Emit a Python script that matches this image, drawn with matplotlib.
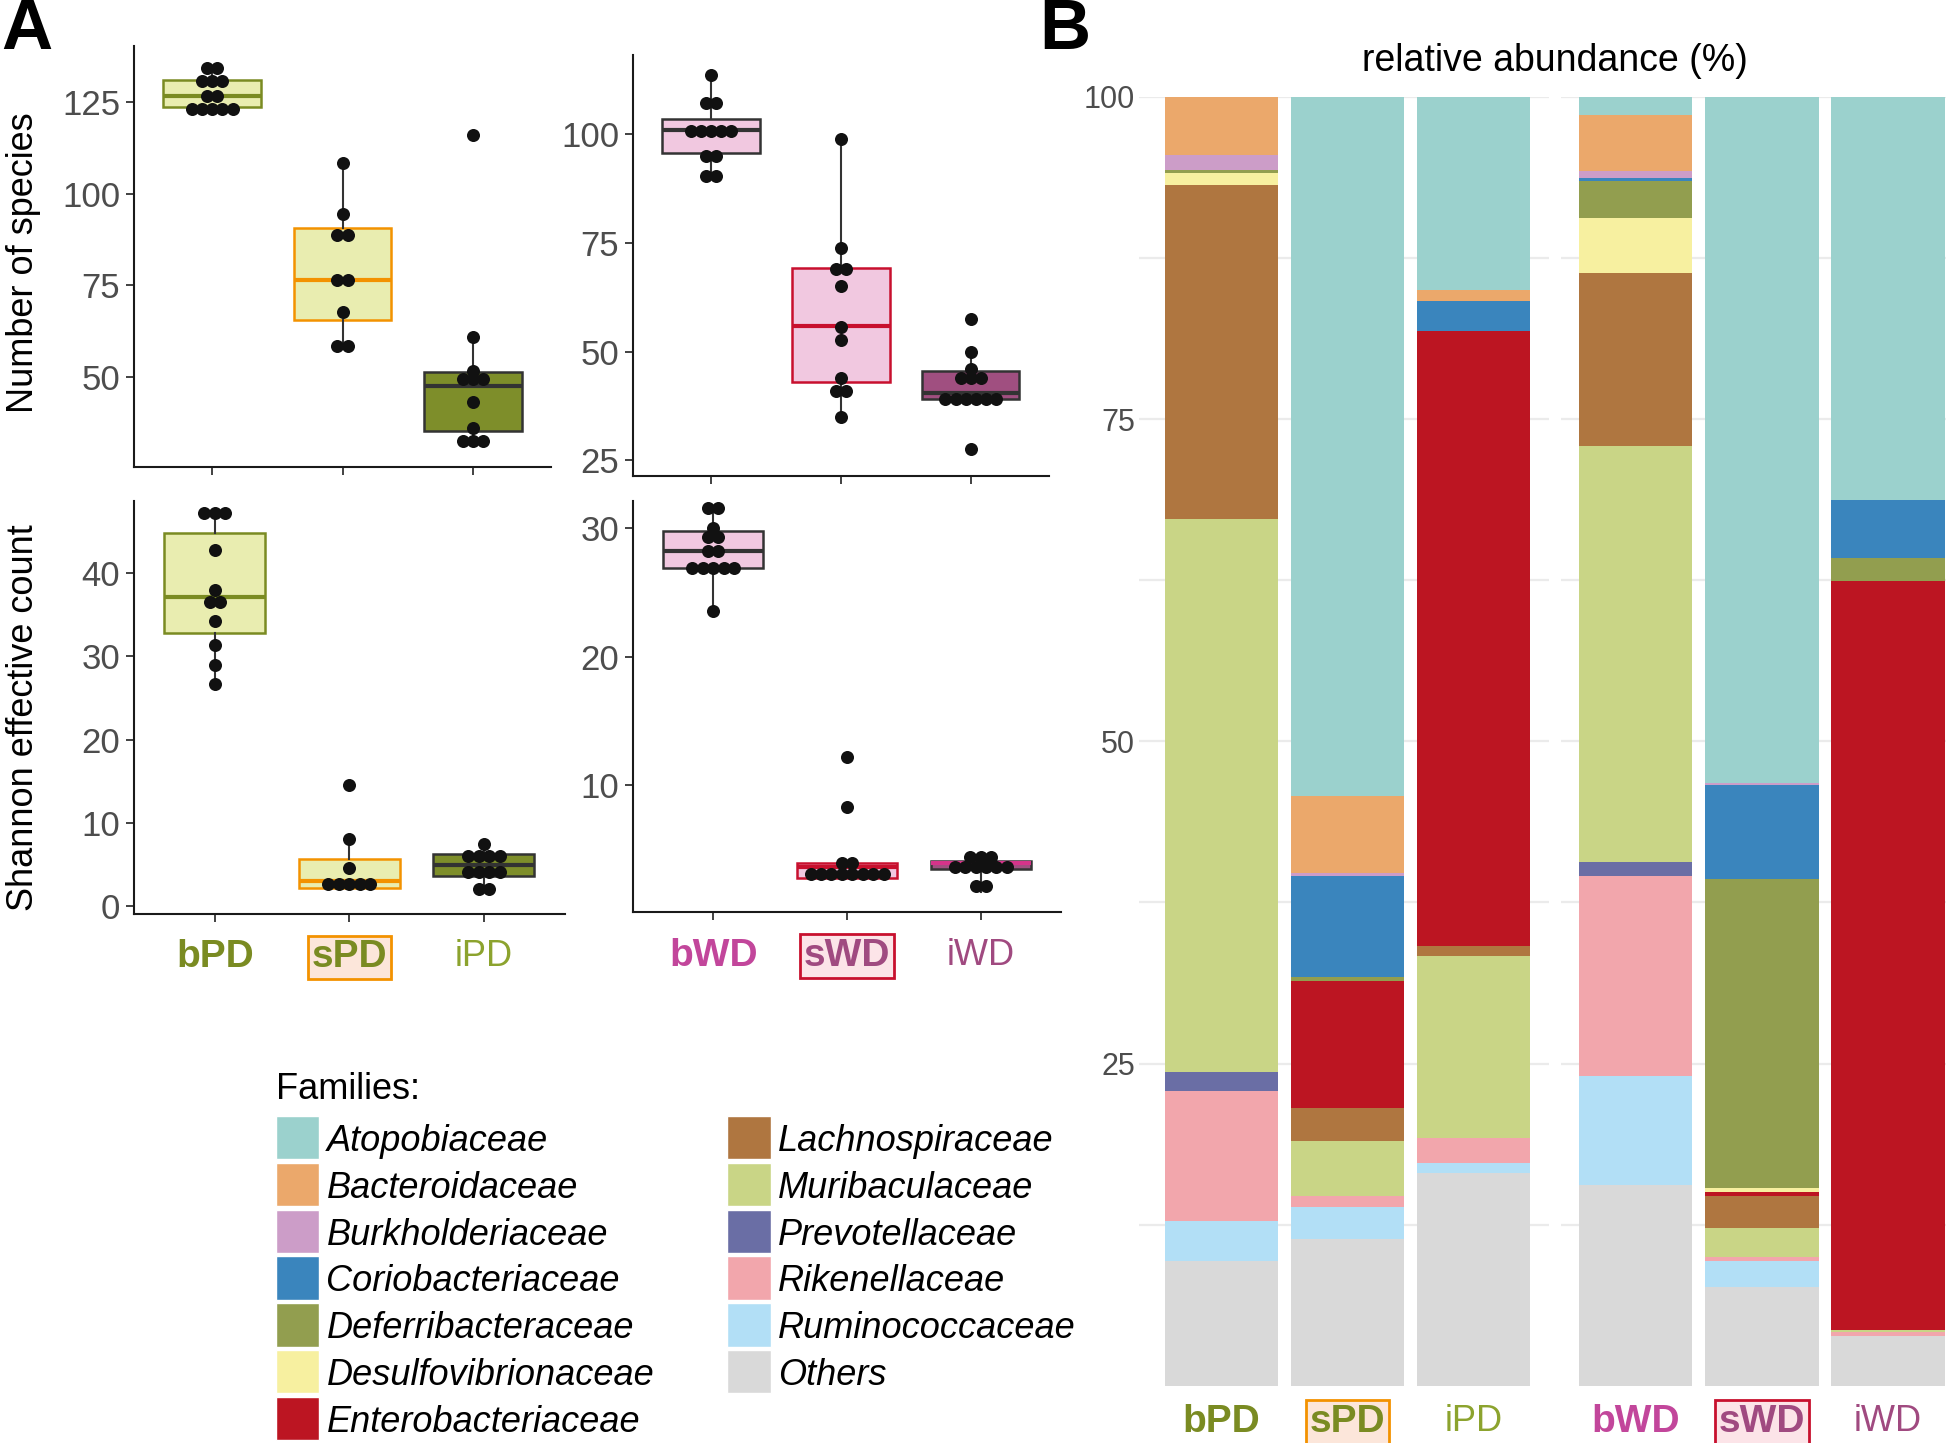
import matplotlib
matplotlib.use('Agg')
import matplotlib.pyplot as plt
from matplotlib.patches import Rectangle
import numpy as np

plt.rcParams['font.family'] = ['Liberation Sans', 'DejaVu Sans']

# layout was measured on the shrunk 1568x1163 reference
W, H = 1568.0, 1163.0

# ---- panel A data: box stats are (q1, median, q3, whisker low, whisker high)
groups_pd = ['bPD', 'sPD', 'iPD']
groups_wd = ['bWD', 'sWD', 'iWD']

species_pd_stats = [(123.6, 126.7, 130.8, 123.0, 134.1),
                    (65.7, 76.6, 90.7, 58.5, 108.4),
                    (35.4, 47.7, 51.3, 32.6, 60.9)]
species_pd_points = [
    [134.1, 134.1, 130.6, 130.6, 130.6, 126.5, 126.5, 123.0, 123.0, 123.0, 123.0, 123.0],
    [108.4, 94.4, 88.6, 88.6, 76.6, 76.6, 67.8, 58.5, 58.5],
    [115.9, 60.9, 51.8, 49.5, 49.5, 49.5, 43.4, 36.3, 32.6, 32.6, 32.6],
]
species_wd_stats = [(95.5, 100.9, 103.4, 90.4, 113.5),
                    (43.0, 55.8, 69.1, 35.0, 98.8),
                    (39.1, 40.4, 45.6, 39.1, 49.8)]
species_wd_points = [
    [113.5, 107.1, 107.1, 100.7, 100.7, 100.7, 100.7, 100.7, 94.8, 94.8, 90.4, 90.4],
    [98.8, 73.8, 69.0, 69.0, 65.0, 55.7, 52.7, 44.0, 41.0, 41.0, 35.0],
    [57.5, 49.8, 46.0, 44.0, 44.0, 44.0, 39.1, 39.1, 39.1, 39.1, 39.1, 39.1, 27.7],
]
shannon_pd_stats = [(32.75, 37.05, 44.8, 26.7, 47.2),
                    (2.2, 3.0, 5.7, 2.2, 8.05),
                    (3.67, 4.98, 6.2, 2.1, 7.45)]
shannon_pd_points = [
    [47.2, 47.2, 47.2, 42.7, 38.0, 36.45, 36.45, 34.2, 31.3, 29.0, 26.7],
    [14.5, 8.05, 4.6, 2.6, 2.6, 2.6, 2.6, 2.6],
    [7.45, 6.05, 6.05, 6.05, 6.05, 4.1, 4.1, 4.1, 4.1, 2.1, 2.1],
]
shannon_wd_stats = [(26.9, 28.2, 29.8, 23.6, 31.6),
                    (2.8, 3.62, 3.96, 2.8, 3.96),
                    (3.49, 3.96, 4.14, 1.7, 4.45)]
shannon_wd_points = [
    [31.6, 31.6, 30.05, 29.3, 29.3, 28.2, 28.2, 26.9, 26.9, 26.9, 26.9, 26.9, 23.6],
    [12.2, 8.3, 3.96, 3.96, 3.1, 3.1, 3.1, 3.1, 3.1, 3.1, 3.1, 3.1],
    [4.45, 4.45, 4.45, 3.67, 3.67, 3.67, 3.67, 3.67, 3.67, 2.2, 2.2],
]

# ---- panel B data: relative abundance (%), order bPD, sPD, iPD, bWD, sWD, iWD
samples = ['bPD', 'sPD', 'iPD', 'bWD', 'sWD', 'iWD']
families = ['Atopobiaceae', 'Bacteroidaceae', 'Burkholderiaceae', 'Coriobacteriaceae',
            'Deferribacteraceae', 'Desulfovibrionaceae', 'Enterobacteriaceae',
            'Lachnospiraceae', 'Muribaculaceae', 'Prevotellaceae', 'Rikenellaceae',
            'Ruminococcaceae', 'Others']
family_colors = ['#9BD1CD', '#EBA86B', '#CC9DC8', '#3A85BD', '#929E4F', '#F7F0A0',
                 '#BC1522', '#AF7640', '#C9D586', '#6A6EA5', '#F2A6AC', '#B2DFF6',
                 '#D9D9D9']
atopobiaceae = [0.0, 54.2, 15.0, 1.4, 53.2, 31.26]
bacteroidaceae = [4.55, 5.96, 0.87, 4.33, 0.0, 0.0]
burkholderiaceae = [1.15, 0.26, 0.0, 0.52, 0.2, 0.0]
coriobacteriaceae = [0.0, 7.83, 2.27, 0.28, 7.28, 4.55]
deferribacteraceae = [0.25, 0.3, 0.0, 2.8, 23.97, 1.75]
desulfovibrionaceae = [0.9, 0.0, 0.0, 4.3, 0.3, 0.0]
enterobacteriaceae = [0.0, 9.85, 47.7, 0.0, 0.3, 58.1]
lachnospiraceae = [25.9, 2.57, 0.81, 13.4, 2.5, 0.0]
muribaculaceae = [42.91, 4.26, 14.1, 32.27, 2.28, 0.2]
prevotellaceae = [1.44, 0.0, 0.0, 1.1, 0.0, 0.0]
rikenellaceae = [10.1, 0.85, 1.95, 15.5, 0.3, 0.25]
ruminococcaceae = [3.1, 2.5, 0.8, 8.46, 2.02, 0.0]
others = [9.7, 11.4, 16.5, 15.6, 7.65, 3.9]
abundance = [atopobiaceae, bacteroidaceae, burkholderiaceae, coriobacteriaceae,
             deferribacteraceae, desulfovibrionaceae, enterobacteriaceae,
             lachnospiraceae, muribaculaceae, prevotellaceae, rikenellaceae,
             ruminococcaceae, others]

# ---- styles
OLIVE = '#7A8B22'
LIGHT_OLIVE = '#8CA32E'
ORANGE = '#F39200'
MAGENTA = '#C2469B'
PURPLE = '#A04A80'
RED = '#C8102E'
DARK = '#333333'
TICK_GRAY = '#4D4D4D'

box_pd = [dict(face='#E9EDB0', edge=OLIVE, med=OLIVE),
          dict(face='#E9EDB0', edge=ORANGE, med=ORANGE),
          dict(face='#7E8E2A', edge=DARK, med=DARK)]
box_wd_top = [dict(face='#F1C8E0', edge=DARK, med=DARK),
              dict(face='#F1C8E0', edge=RED, med=RED),
              dict(face='#A04F80', edge=DARK, med=DARK)]
box_wd_bot = [dict(face='#F1C8E0', edge=DARK, med=DARK),
              dict(face='#F1C8E0', edge=RED, med=RED),
              dict(face='#A04F80', edge=DARK, med='#D6338A')]

label_pd = [dict(color=OLIVE, weight='bold', size=28, box=None),
            dict(color=OLIVE, weight='bold', size=28, box=('#FCE6DA', ORANGE)),
            dict(color=LIGHT_OLIVE, weight='normal', size=26, box=None)]
label_wd = [dict(color=MAGENTA, weight='bold', size=28, box=None),
            dict(color=PURPLE, weight='bold', size=28, box=('#FCE4E8', RED)),
            dict(color=PURPLE, weight='normal', size=26, box=None)]


def rect(x0, x1, ytop, ybot):
    return [x0 / W, 1 - ybot / H, (x1 - x0) / W, (ybot - ytop) / H]


def set_xlabels(ax, names, styles, pad):
    ax.set_xticks(range(1, len(names) + 1))
    ax.set_xticklabels(names)
    ax.tick_params(axis='x', pad=pad)
    for lab, st in zip(ax.get_xticklabels(), styles):
        lab.set_color(st['color'])
        lab.set_fontweight(st['weight'])
        lab.set_fontsize(st['size'])
        if st['box'] is not None:
            lab.set_bbox(dict(boxstyle='square,pad=0.1', facecolor=st['box'][0],
                              edgecolor=st['box'][1], linewidth=2))


def box_panel(ax, stats, points, styles, ylim, yticks):
    for i, ((q1, med, q3, lo, hi), st) in enumerate(zip(stats, styles)):
        s = [dict(q1=q1, med=med, q3=q3, whislo=lo, whishi=hi, fliers=[])]
        ax.bxp(s, positions=[i + 1], widths=0.75, patch_artist=True,
               showcaps=False, showfliers=False,
               boxprops=dict(facecolor=st['face'], edgecolor=st['edge'], linewidth=1.8),
               medianprops=dict(color=st['med'], linewidth=3),
               whiskerprops=dict(color=DARK, linewidth=1.5))
    # dot rows: equal values are spread side by side
    dx = 0.078
    for i, vals in enumerate(points):
        vals = np.array(vals)
        for v in np.unique(vals):
            n = int(np.sum(vals == v))
            xs = i + 1 + (np.arange(n) - (n - 1) / 2) * dx
            ax.scatter(xs, [v] * n, s=88, color='#111111', zorder=5, linewidths=0)
    ax.set_xlim(0.4, 3.6)
    ax.set_ylim(*ylim)
    ax.set_yticks(yticks)
    ax.tick_params(axis='y', labelsize=25, labelcolor=TICK_GRAY, color=DARK,
                   length=6, width=1.3, pad=4)
    ax.tick_params(axis='x', color=DARK, length=6, width=1.3)
    for side in ['top', 'right']:
        ax.spines[side].set_visible(False)
    for side in ['left', 'bottom']:
        ax.spines[side].set_color('#1A1A1A')
        ax.spines[side].set_linewidth(1.5)


fig = plt.figure(figsize=(19.46, 14.43), dpi=100)

ax_tl = fig.add_axes(rect(108, 444, 37, 376))
box_panel(ax_tl, species_pd_stats, species_pd_points, box_pd, (25.7, 140.2), [50, 75, 100, 125])
ax_tl.set_xticks([1, 2, 3])
ax_tl.set_xticklabels([])

ax_tr = fig.add_axes(rect(510, 845, 44, 384))
box_panel(ax_tr, species_wd_stats, species_wd_points, box_wd_top, (21.3, 118.2), [25, 50, 75, 100])
ax_tr.set_xticks([1, 2, 3])
ax_tr.set_xticklabels([])

ax_bl = fig.add_axes(rect(108, 455, 404, 737))
box_panel(ax_bl, shannon_pd_stats, shannon_pd_points, box_pd, (-1.0, 48.6), [0, 10, 20, 30, 40])
set_xlabels(ax_bl, groups_pd, label_pd, pad=12)

ax_br = fig.add_axes(rect(510, 855, 404, 735))
box_panel(ax_br, shannon_wd_stats, shannon_wd_points, box_wd_bot, (0.15, 32.1), [10, 20, 30])
set_xlabels(ax_br, groups_wd, label_wd, pad=13)

fig.text(19 / W, 1 - 212 / H, 'Number of species', rotation=90, fontsize=26,
         ha='center', va='center')
fig.text(19 / W, 1 - 578 / H, 'Shannon effective count', rotation=90, fontsize=26,
         ha='center', va='center')

fig.text(1 / W, 1 - 25 / H, 'A', fontsize=51, fontweight='bold', ha='left', va='center')
fig.text(837 / W, 1 - 25 / H, 'B', fontsize=51, fontweight='bold', ha='left', va='center')

# ---- legend drawn by hand (two columns, ggplot look)
fig.text(222 / W, 1 - 878 / H, 'Families:', fontsize=26, ha='left', va='center')
for k, (fam, col) in enumerate(zip(families, family_colors)):
    c, r = divmod(k, 7)
    x0 = 222 + c * 364
    yc = 917 + r * 37.7
    fig.patches.append(Rectangle((x0 / W, 1 - (yc + 17.5) / H), 35 / W, 35 / H,
                                 transform=fig.transFigure, facecolor=col,
                                 edgecolor='white', linewidth=1))
    fig.text((x0 + 41) / W, 1 - (yc + 3) / H, fam, fontsize=26, style='italic',
             ha='left', va='center')

# ---- panel B: stacked bars, one facet per diet
fig.text(1253 / W, 1 - 49 / H, 'relative abundance (%)', fontsize=27,
         ha='center', va='center')
facets = [(rect(918, 1248, 78, 1117), slice(0, 3), groups_pd, label_pd, (0.35, 3.6)),
          (rect(1258, 1568, 78, 1117), slice(3, 6), groups_wd, label_wd, (0.41, 3.46))]
for j, (pos, sl, names, styles, xl) in enumerate(facets):
    ax = fig.add_axes(pos)
    xs = np.arange(1, 4)
    bottom = np.zeros(3)
    for vals, col in zip(abundance[::-1], family_colors[::-1]):
        v = np.array(vals[sl])
        ax.bar(xs, v, bottom=bottom, width=0.9, color=col, linewidth=0)
        bottom += v
    ax.set_xlim(*xl)
    ax.set_ylim(0, 100)
    ax.set_yticks([25, 50, 75, 100])
    ax.set_yticks([12.5, 37.5, 62.5, 87.5], minor=True)
    ax.grid(True, axis='y', which='both', color='#EBEBEB', linewidth=1.6)
    ax.set_axisbelow(True)
    for sp in ax.spines.values():
        sp.set_visible(False)
    ax.tick_params(axis='y', which='both', length=0, labelsize=22,
                   labelcolor=TICK_GRAY, pad=3)
    if j == 1:
        ax.set_yticklabels([])
    set_xlabels(ax, names, styles, pad=13)
    ax.tick_params(axis='x', length=0)

fig.savefig('out.png', dpi=100)
